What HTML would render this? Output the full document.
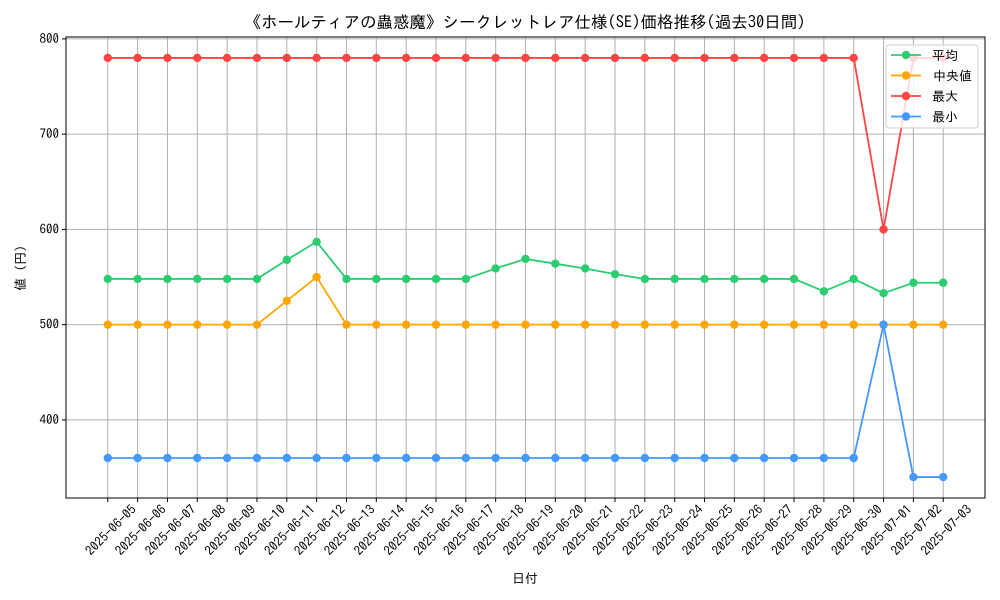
<!DOCTYPE html>
<html><head><meta charset="utf-8"><style>
body{margin:0;background:#fff;}
svg{display:block;font-family:"IPAGothic","Noto Sans CJK JP",sans-serif;}
</style></head><body>
<svg id="chart" width="1000" height="600">
<rect width="1000" height="600" fill="#fff"/>
<text x="525" y="28" text-anchor="middle" font-size="16.5">《ホールティアの蟲惑魔》シークレットレア仕様(SE)価格推移(過去30日間)</text>
<g id="grid"></g><g id="series"></g><g id="axes"></g>
<text x="525" y="583" text-anchor="middle" font-size="13">日付</text>
<text transform="translate(25,268) rotate(-90)" text-anchor="middle" font-size="13">値 (円)</text>
<g id="legend"></g>
</svg>
<script>
const dates=["2025-06-05","2025-06-06","2025-06-07","2025-06-08","2025-06-09","2025-06-10","2025-06-11","2025-06-12","2025-06-13","2025-06-14","2025-06-15","2025-06-16","2025-06-17","2025-06-18","2025-06-19","2025-06-20","2025-06-21","2025-06-22","2025-06-23","2025-06-24","2025-06-25","2025-06-26","2025-06-27","2025-06-28","2025-06-29","2025-06-30","2025-07-01","2025-07-02","2025-07-03"];
const avgVals=[548,548,548,548,548,548,568,587,548,548,548,548,548,559,569,564,559,553,548,548,548,548,548,548,535,548,533,544,544];
const medVals=[500,500,500,500,500,500,525,550,500,500,500,500,500,500,500,500,500,500,500,500,500,500,500,500,500,500,500,500,500];
const maxVals=[780,780,780,780,780,780,780,780,780,780,780,780,780,780,780,780,780,780,780,780,780,780,780,780,780,780,600,780,780];
const minVals=[360,360,360,360,360,360,360,360,360,360,360,360,360,360,360,360,360,360,360,360,360,360,360,360,360,360,500,340,340];
const yTicks=[400,500,600,700,800];
const seriesNames=["平均","中央値","最大","最小"];
const L=66,R=985,T=37,B=498;
const NS="http://www.w3.org/2000/svg";
const n=dates.length;
const allV=[].concat(avgVals,medVals,maxVals,minVals);
const vmin=Math.min(...allV),vmax=Math.max(...allV);
const ymin=vmin-(vmax-vmin)*0.05,ymax=vmax+(vmax-vmin)*0.05;
const xmin=-(n-1)*0.05,xmax=(n-1)*1.05;
const X=i=>L+(i-xmin)/(xmax-xmin)*(R-L);
const Y=v=>B-(v-ymin)/(ymax-ymin)*(B-T);
function mk(tag,attrs,parent){const e=document.createElementNS(NS,tag);for(const k in attrs)e.setAttribute(k,attrs[k]);parent.appendChild(e);return e;}
const grid=document.getElementById('grid'),axes=document.getElementById('axes'),ser=document.getElementById('series'),leg=document.getElementById('legend');
dates.forEach((d,i)=>{
 const x=X(i);
 const g=mk('line',{x1:x,x2:x,y1:T,y2:B,stroke:'#b0b0b0','stroke-width':1},grid);
 
 
 const t=mk('line',{x1:x,x2:x,y1:B,y2:B+4,stroke:'#000'},axes);
 
 
 const tx=mk('text',{transform:`translate(${x+23},${B+6}) rotate(-45)`,'text-anchor':'end','font-size':13,'dominant-baseline':'hanging'},axes);
 tx.textContent=d;
 
 
});
yTicks.forEach(v=>{
 const y=Y(v);
 const g=mk('line',{x1:L,x2:R,y1:y,y2:y,stroke:'#b0b0b0','stroke-width':1},grid);
 
 
 const t=mk('line',{x1:L-4,x2:L,y1:y,y2:y,stroke:'#000'},axes);
 
 
 const tx=mk('text',{x:L-7,y:y+4,'text-anchor':'end','font-size':13},axes);
 tx.textContent=v;
 
 
});
const frame=mk('rect',{x:L,y:T,width:R-L,height:B-T,fill:'none',stroke:'#000','stroke-width':1},axes);


const seriesData=[avgVals,medVals,maxVals,minVals];
const colors=['#2ecc71','#ffa500','#ff4444','#4499ff'];
seriesData.forEach((vals,s)=>{
 const grp=mk('g',{},ser);
 
 
 const pl=mk('polyline',{points:vals.map((v,i)=>X(i)+','+Y(v)).join(' '),fill:'none',stroke:colors[s],'stroke-width':1.8},grp);
 
 
 vals.forEach((v,i)=>{
  const c=mk('circle',{cx:X(i),cy:Y(v),r:4.2,fill:colors[s]},grp);
  
  
 });
});
const box=mk('rect',{x:886,y:45,width:92,height:83,rx:3,fill:'#fff','fill-opacity':0.8,stroke:'#ccc'},leg);


seriesNames.forEach((nm,s)=>{
 const y=55+s*20.5;
 const ln=mk('line',{x1:891,x2:921,y1:y,y2:y,stroke:colors[s],'stroke-width':1.8},leg);
 
 
 const c=mk('circle',{cx:906,cy:y,r:4.2,fill:colors[s]},leg);
 
 
 const t=mk('text',{x:s==1?933:932,y:y+5,'font-size':13},leg);
 t.textContent=nm;
 
 
});
</script>
</body></html>
